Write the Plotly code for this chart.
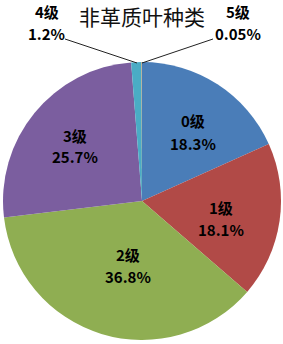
import plotly.graph_objects as go

categories = ["0级", "1级", "2级", "3级", "4级", "5级"]
values = [18.3, 18.1, 36.8, 25.7, 1.2, 0.05]
pct_labels = ["18.3%", "18.1%", "36.8%", "25.7%", "1.2%", "0.05%"]
colors = ["#4A7DB8", "#B14A47", "#8FAE52", "#7B5E9F", "#4AACC5", "#F79646"]
title_text = "非革质叶种类"

W, H = 283, 344
# label centres (px) for category line; percent line sits 22px below
label_pos = [(193, 121), (221, 207), (128, 254), (75, 135), (47, 12), (238, 12)]

fig = go.Figure(go.Pie(
    labels=categories,
    values=values,
    textinfo="none",
    sort=False,
    direction="clockwise",
    rotation=0,
    marker=dict(colors=colors, line=dict(width=0)),
    domain=dict(x=[0.0106, 0.993], y=[0.0116, 0.82]),
    showlegend=False,
    hoverinfo="label+percent",
))

lab_font = dict(family="Noto Sans CJK SC", size=15, color="black", weight="bold")
for (c, p, (px, py)) in zip(categories, pct_labels, label_pos):
    for txt, yy in ((c, py), (p, py + 22)):
        fig.add_annotation(text=txt, x=px / W, y=1 - yy / H, xref="paper", yref="paper",
                           showarrow=False, xanchor="center", yanchor="middle", font=lab_font)

fig.add_annotation(text=title_text, x=0.5, y=1 - 16 / H, xref="paper", yref="paper",
                   showarrow=False, xanchor="center", yanchor="middle",
                   font=dict(family="Noto Sans CJK SC", size=21, color="#111"))

fig.add_shape(type="line", xref="paper", yref="paper", x0=137 / W, y0=1 - 63 / H, x1=65 / W, y1=1 - 39 / H,
              line=dict(color="#222", width=1))
fig.add_shape(type="line", xref="paper", yref="paper", x0=142 / W, y0=1 - 63 / H, x1=213 / W, y1=1 - 39 / H,
              line=dict(color="#222", width=1))

fig.update_layout(
    width=W, height=H,
    margin=dict(l=0, r=0, t=0, b=0),
    paper_bgcolor="white",
)

fig.write_html("out.html")
